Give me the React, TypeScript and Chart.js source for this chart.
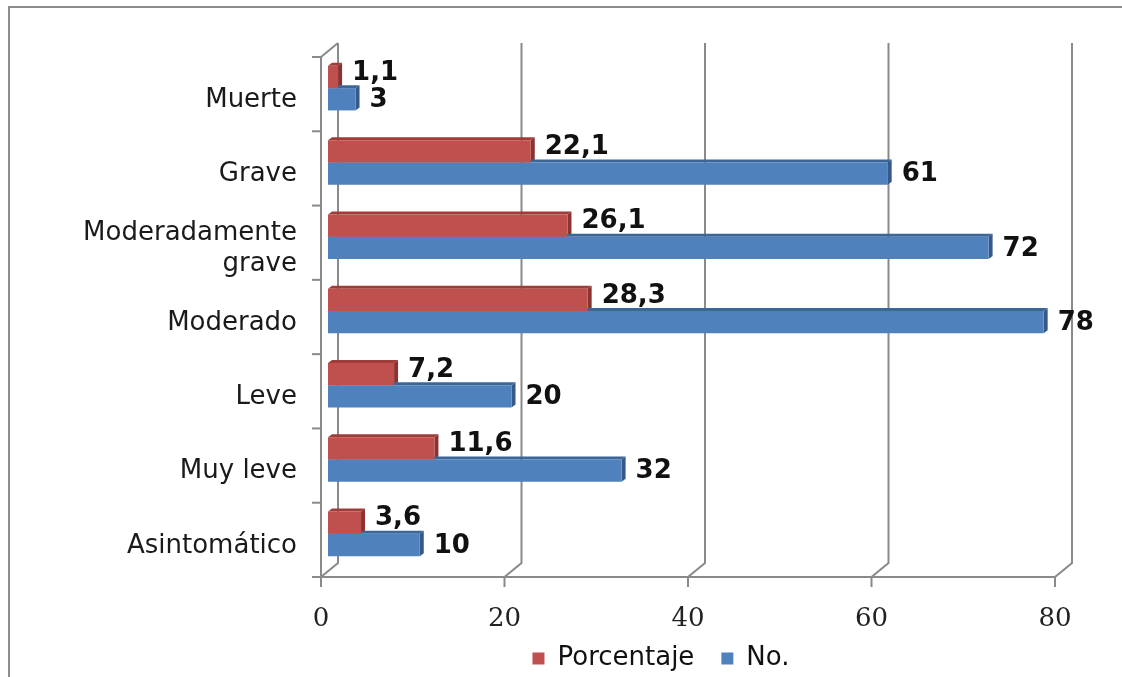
import React, { useEffect, useRef } from "react";
import { Chart, registerables } from "chart.js";

Chart.register(...registerables);

const categories: (string | string[])[] = [
  "Muerte",
  "Grave",
  ["Moderadamente", "grave"],
  "Moderado",
  "Leve",
  "Muy leve",
  "Asintomático",
];
const porcentaje = [1.1, 22.1, 26.1, 28.3, 7.2, 11.6, 3.6];
const numero = [3, 61, 72, 78, 20, 32, 10];
const xTicks = [0, 20, 40, 60, 80];

const RED = "#C0504D";
const BLUE = "#4F81BD";
const faceColors = [
  { top: "#9E3C39", side: "#8A3330" },
  { top: "#3B6698", side: "#34598A" },
];

// depth offsets of the back wall and front plane relative to the bar plane
const BACK_X = 10;
const BACK_Y = -8;
const FRONT_X = -7;
const FRONT_Y = 6;
const DEPTH_X = 4;
const DEPTH_Y = 3;

// legend placement (left edge of its box, centre line of its items)
const LEGEND_LEFT = 260;
const LEGEND_MID_Y = 661;
const LEGEND_PAD = 27;
const LEGEND_FONT = 26;

const outerBorder = {
  id: "outerBorder",
  beforeDraw(chart: any) {
    const { ctx } = chart;
    ctx.save();
    ctx.strokeStyle = "#8c8c8c";
    ctx.lineWidth = 2;
    ctx.strokeRect(9, 7, 1300, 900);
    ctx.restore();
  },
};

const legendPlacement = {
  id: "legendPlacement",
  afterLayout(chart: any) {
    const lg = chart.legend;
    if (!lg) return;
    const itemHeight = Math.max(12, LEGEND_FONT * 1.2);
    lg.left = LEGEND_LEFT;
    lg.top = LEGEND_MID_Y - LEGEND_PAD - itemHeight / 2;
    lg.bottom = chart.height;
  },
};

const frame3d = {
  id: "frame3d",
  beforeDatasetsDraw(chart: any) {
    const { ctx, chartArea } = chart;
    const { top, bottom } = chartArea;
    const xs = chart.scales.x;
    const x0 = xs.getPixelForValue(0);
    const xEnd = xs.getPixelForValue(xTicks[xTicks.length - 1]);
    ctx.save();
    ctx.strokeStyle = "#8a8a8a";
    ctx.lineWidth = 2;
    // back-wall gridlines with their floor edge and front tick
    xTicks.forEach((v) => {
      const x = xs.getPixelForValue(v);
      ctx.beginPath();
      ctx.moveTo(x + BACK_X, top + BACK_Y);
      ctx.lineTo(x + BACK_X, bottom + BACK_Y);
      ctx.lineTo(x + FRONT_X, bottom + FRONT_Y);
      ctx.lineTo(x + FRONT_X, bottom + FRONT_Y + 10);
      ctx.stroke();
    });
    // left wall edge and front vertical axis
    ctx.beginPath();
    ctx.moveTo(x0 + BACK_X, top + BACK_Y);
    ctx.lineTo(x0 + FRONT_X, top + FRONT_Y);
    ctx.lineTo(x0 + FRONT_X, bottom + FRONT_Y);
    ctx.stroke();
    // front horizontal axis
    ctx.beginPath();
    ctx.moveTo(x0 + FRONT_X, bottom + FRONT_Y);
    ctx.lineTo(xEnd + FRONT_X, bottom + FRONT_Y);
    ctx.stroke();
    // category ticks on the front vertical axis
    const n = categories.length;
    for (let k = 0; k <= n; k++) {
      const y = top + (k * (bottom - top)) / n + FRONT_Y;
      ctx.beginPath();
      ctx.moveTo(x0 + FRONT_X - 9, y);
      ctx.lineTo(x0 + FRONT_X, y);
      ctx.stroke();
    }
    ctx.restore();

    // top and end faces of the bars (front faces are painted over them)
    ctx.save();
    chart.data.datasets.forEach((_: any, i: number) => {
      const meta = chart.getDatasetMeta(i);
      const c = faceColors[i];
      meta.data.forEach((bar: any) => {
        const t = bar.y - bar.height / 2;
        const b = bar.y + bar.height / 2;
        ctx.fillStyle = c.top;
        ctx.beginPath();
        ctx.moveTo(bar.base, t);
        ctx.lineTo(bar.base + DEPTH_X, t - DEPTH_Y);
        ctx.lineTo(bar.x + DEPTH_X, t - DEPTH_Y);
        ctx.lineTo(bar.x, t);
        ctx.closePath();
        ctx.fill();
        ctx.fillStyle = c.side;
        ctx.beginPath();
        ctx.moveTo(bar.x, t);
        ctx.lineTo(bar.x + DEPTH_X, t - DEPTH_Y);
        ctx.lineTo(bar.x + DEPTH_X, b - DEPTH_Y);
        ctx.lineTo(bar.x, b);
        ctx.closePath();
        ctx.fill();
      });
    });
    ctx.restore();
  },
};

const valueLabels = {
  id: "valueLabels",
  afterDatasetsDraw(chart: any) {
    const { ctx } = chart;
    ctx.save();
    ctx.font = "bold 26px 'DejaVu Sans'";
    ctx.fillStyle = "#111";
    ctx.textAlign = "left";
    ctx.textBaseline = "middle";
    chart.data.datasets.forEach((ds: any, i: number) => {
      const meta = chart.getDatasetMeta(i);
      meta.data.forEach((bar: any, j: number) => {
        const text = String(ds.data[j]).replace(".", ",");
        ctx.fillText(text, bar.x + 14, bar.y + (i === 0 ? -4 : 1));
      });
    });
    ctx.restore();
  },
};

export default function App() {
  const canvasRef = useRef<HTMLCanvasElement | null>(null);

  useEffect(() => {
    const canvas = canvasRef.current;
    if (!canvas) return;
    const chart = new Chart(canvas, {
      type: "bar",
      data: {
        labels: categories as any,
        datasets: [
          {
            label: "Porcentaje",
            data: porcentaje,
            backgroundColor: RED,
            borderWidth: 0,
            categoryPercentage: 0.6,
            barPercentage: 1,
          },
          {
            label: "No.",
            data: numero,
            backgroundColor: BLUE,
            borderWidth: 0,
            categoryPercentage: 0.6,
            barPercentage: 1,
          },
        ],
      },
      options: {
        indexAxis: "y",
        responsive: false,
        animation: false,
        devicePixelRatio: 1,
        layout: { padding: { top: 51, right: 60, left: 0, bottom: 0 } },
        plugins: {
          tooltip: { enabled: false },
          legend: {
            position: "bottom",
            maxHeight: 44,
            labels: {
              boxWidth: 12,
              boxHeight: 12,
              padding: LEGEND_PAD,
              color: "#111",
              font: { family: "'DejaVu Sans'", size: LEGEND_FONT },
            },
          },
        },
        scales: {
          x: {
            min: 0,
            max: 80,
            afterBuildTicks: (scale: any) => {
              scale.ticks = xTicks.map((v) => ({ value: v }));
            },
            afterFit: (scale: any) => {
              scale.height = 62;
            },
            grid: { display: false, drawTicks: false },
            border: { display: false },
            ticks: {
              color: "#222",
              padding: 33,
              labelOffset: -7,
              font: { family: "'DejaVu Serif'", size: 26 },
            },
          },
          y: {
            afterFit: (scale: any) => {
              scale.width = 328;
            },
            grid: { display: false, drawTicks: false },
            border: { display: false },
            ticks: {
              color: "#1a1a1a",
              padding: 31,
              labelOffset: 12,
              font: { family: "'DejaVu Sans'", size: 26 },
            },
          },
        },
      },
      plugins: [outerBorder, legendPlacement, frame3d, valueLabels],
    });
    return () => chart.destroy();
  }, []);

  return (
    <div style={{ position: "absolute", left: 0, top: 0, width: 1122, height: 677 }}>
      <canvas ref={canvasRef} width={1122} height={677} />
    </div>
  );
}
